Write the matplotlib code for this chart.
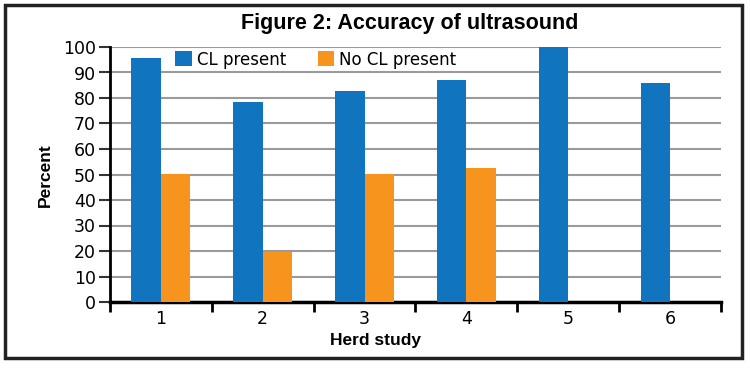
import matplotlib
matplotlib.use("Agg")
import matplotlib.pyplot as plt
from matplotlib.patches import Rectangle
import numpy as np

# data
herds = ["1", "2", "3", "4", "5", "6"]
cl_present = [95.5, 78.5, 82.8, 87.0, 100.0, 85.8]
no_cl_present = [50.2, 19.8, 50.2, 52.6, 0, 0]

BLUE = "#1174BE"
ORANGE = "#F7941D"
GRID = "#9a9a9a"

plt.rcParams["font.family"] = ["DejaVu Sans"]

fig = plt.figure(figsize=(7.5, 3.69), dpi=100)
ax = fig.add_axes([110/750, 1-302/369, (721-110)/750, (302-47)/369])

x = np.arange(1, len(herds) + 1)
w = 0.29
ax.bar(x - w/2, cl_present, w, color=BLUE, label="CL present", zorder=3)
ax.bar(x + w/2, no_cl_present, w, color=ORANGE, label="No CL present", zorder=3)

ax.set_xlim(0.5, len(herds) + 0.5)
ax.set_ylim(0, 100)
ax.set_yticks(range(0, 101, 10))
ax.yaxis.grid(True, color=GRID, linewidth=1.5, zorder=0)
ax.set_axisbelow(True)

# ticks at group boundaries, labels at centres
ax.set_xticks(np.arange(0.5, len(herds) + 1, 1.0))
ax.set_xticklabels([])
ax.set_xticks(x, minor=True)
ax.set_xticklabels(herds, minor=True, fontsize=12.5)
ax.tick_params(axis="x", which="major", length=7, width=2, color="black", direction="out")
ax.tick_params(axis="x", which="minor", length=0, pad=6)
ax.tick_params(axis="y", length=8, width=1.5, color="#333333", direction="out", pad=2,
               labelsize=12.5)

for s in ["top", "right"]:
    ax.spines[s].set_visible(False)
ax.spines["left"].set_linewidth(2)
ax.spines["bottom"].set_linewidth(2.5)

ax.legend(loc="upper left", bbox_to_anchor=(0.082, 1.045), ncol=2, frameon=False,
          handlelength=1.0, handleheight=1.0, handletextpad=0.3,
          columnspacing=1.9, prop={"size": 12})

fig.text(410/750, 1-23/369, "Figure 2: Accuracy of ultrasound", ha="center", va="center",
         fontsize=15.5, fontweight="bold", family="Liberation Sans")
fig.text(45/750, 1-175/369, "Percent", rotation=90, ha="center", va="center",
         fontsize=12.5, fontweight="bold", family="Liberation Sans")
fig.text(375/750, 1-340/369, "Herd study", ha="center", va="center",
         fontsize=12.5, fontweight="bold", family="Liberation Sans")

# outer frame
fig.patches.append(Rectangle((5/750, 1-358/369), (742-5)/750, (358-5)/369,
                             transform=fig.transFigure, fill=False,
                             edgecolor="#222222", linewidth=2.5))

fig.savefig("out.png", dpi=100)
